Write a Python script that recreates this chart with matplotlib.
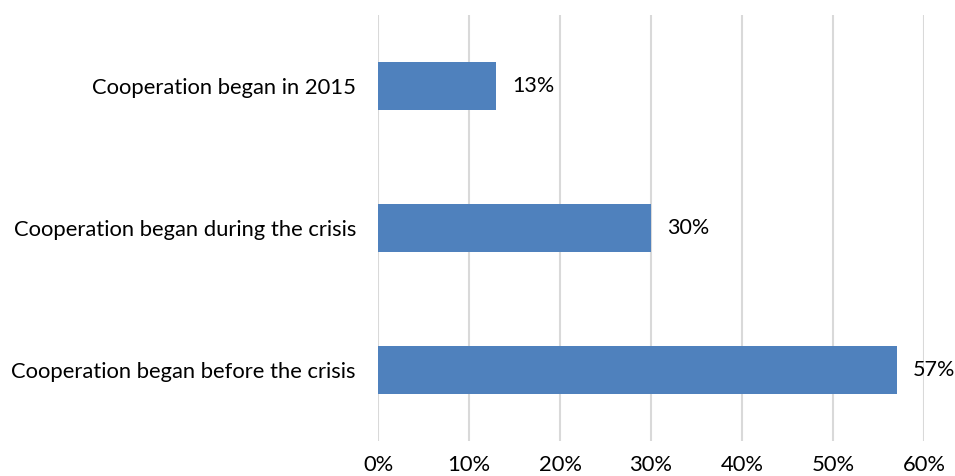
import matplotlib.pyplot as plt
from matplotlib.ticker import PercentFormatter

categories = ['Cooperation began before the crisis',
              'Cooperation began during the crisis',
              'Cooperation began in 2015']
values = [57, 30, 13]

plt.rcParams['font.family'] = ['Lato', 'DejaVu Sans']

fig = plt.figure(figsize=(9.55, 4.76), dpi=100)
ax = fig.add_axes([0.396, 0.0735, 0.5715, 0.895])

bars = ax.barh(categories, values, height=0.34, color='#4F81BD', zorder=3)
for b, v in zip(bars, values):
    ax.text(b.get_width() + 1.75, b.get_y() + b.get_height() / 2, f'{v}%',
            va='center', ha='left', fontsize=15.5, color='black')

ax.set_xlim(0, 60)
ax.set_ylim(-0.5, 2.5)
ax.set_xticks(range(0, 61, 10))
ax.xaxis.set_major_formatter(PercentFormatter(decimals=0))
ax.grid(axis='x', color='#D9D9D9', linewidth=1.5, zorder=0)
for s in ax.spines.values():
    s.set_visible(False)
ax.tick_params(axis='both', length=0, labelsize=15.8)
ax.tick_params(axis='x', pad=10)
ax.tick_params(axis='y', pad=16)

fig.savefig('out.png', dpi=100)
